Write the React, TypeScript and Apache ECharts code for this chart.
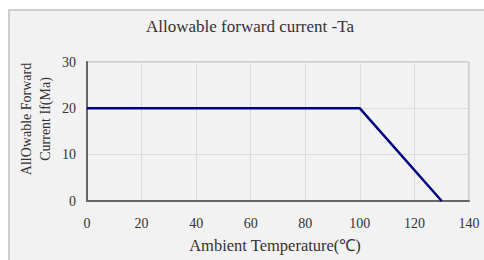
import React, { useEffect, useRef } from "react";
import * as echarts from "echarts";

const temps = [0, 100, 130];
const currents = [20, 20, 0];
const xTicks = [0, 20, 40, 60, 80, 100, 120, 140];
const yTicks = [0, 10, 20, 30];
const titleText = "Allowable forward current -Ta";
const xName = "Ambient Temperature(℃)";
const yNameLines = ["AllOwable Forward", "Current If(Ma)"];

export default function App() {
  const ref = useRef<HTMLDivElement>(null);
  useEffect(() => {
    if (!ref.current) return;
    const chart = echarts.init(ref.current, undefined, { renderer: "svg" });
    const serif = "'Liberation Serif', serif";
    chart.setOption({
      animation: false,
      grid: {
        left: 87,
        top: 62,
        right: 15,
        bottom: 59,
        show: true,
        borderColor: "#a8a8a8",
        borderWidth: 1,
        backgroundColor: "transparent",
      },
      xAxis: {
        type: "value",
        min: xTicks[0],
        max: xTicks[xTicks.length - 1],
        interval: 20,
        axisLine: { show: true, onZero: false, lineStyle: { color: "#666", width: 2 } },
        axisTick: { show: false },
        splitLine: { show: true, lineStyle: { color: "#dcdcdc" } },
        axisLabel: { color: "#333", fontFamily: serif, fontSize: 14, margin: 15 },
      },
      yAxis: {
        type: "value",
        min: yTicks[0],
        max: yTicks[yTicks.length - 1],
        interval: 10,
        axisLine: { show: true, onZero: false, lineStyle: { color: "#666", width: 2 } },
        axisTick: { show: false },
        splitLine: { show: true, lineStyle: { color: "#dcdcdc" } },
        axisLabel: { color: "#333", fontFamily: serif, fontSize: 14, margin: 11 },
      },
      series: [
        {
          type: "line",
          data: temps.map((t, i) => [t, currents[i]]),
          showSymbol: false,
          symbol: "none",
          lineStyle: { color: "#000080", width: 2.5 },
          itemStyle: { color: "#000080" },
        },
      ],
      graphic: [
        {
          type: "rect",
          z: -10,
          silent: true,
          shape: { x: 8, y: 9, width: 476, height: 251 },
          style: { fill: "#f2f2f2" },
        },
        {
          type: "line",
          z: -9,
          shape: { x1: 8, y1: 10, x2: 484, y2: 10 },
          style: { stroke: "#cdcdcd", lineWidth: 2 },
        },
        {
          type: "line",
          z: -9,
          shape: { x1: 9, y1: 9, x2: 9, y2: 260 },
          style: { stroke: "#cdcdcd", lineWidth: 2 },
        },
        {
          type: "text",
          x: 250,
          y: 26,
          style: {
            text: titleText,
            fontFamily: serif,
            fontSize: 17,
            fill: "#333",
            textAlign: "center",
            textVerticalAlign: "middle",
          },
        },
        {
          type: "text",
          x: 275,
          y: 245,
          style: {
            text: xName,
            fontFamily: serif,
            fontSize: 16.5,
            fill: "#333",
            textAlign: "center",
            textVerticalAlign: "middle",
          },
        },
        ...yNameLines.map((line, i) => ({
          type: "text",
          x: 26 + i * 19,
          y: 119,
          rotation: Math.PI / 2,
          style: {
            text: line,
            fontFamily: serif,
            fontSize: 14,
            fill: "#333",
            textAlign: "center",
            textVerticalAlign: "middle",
          },
        })),
      ],
    });
    return () => chart.dispose();
  }, []);
  return (
    <div
      ref={ref}
      style={{ position: "fixed", left: 0, top: 0, width: 484, height: 260, background: "#fff" }}
    />
  );
}
